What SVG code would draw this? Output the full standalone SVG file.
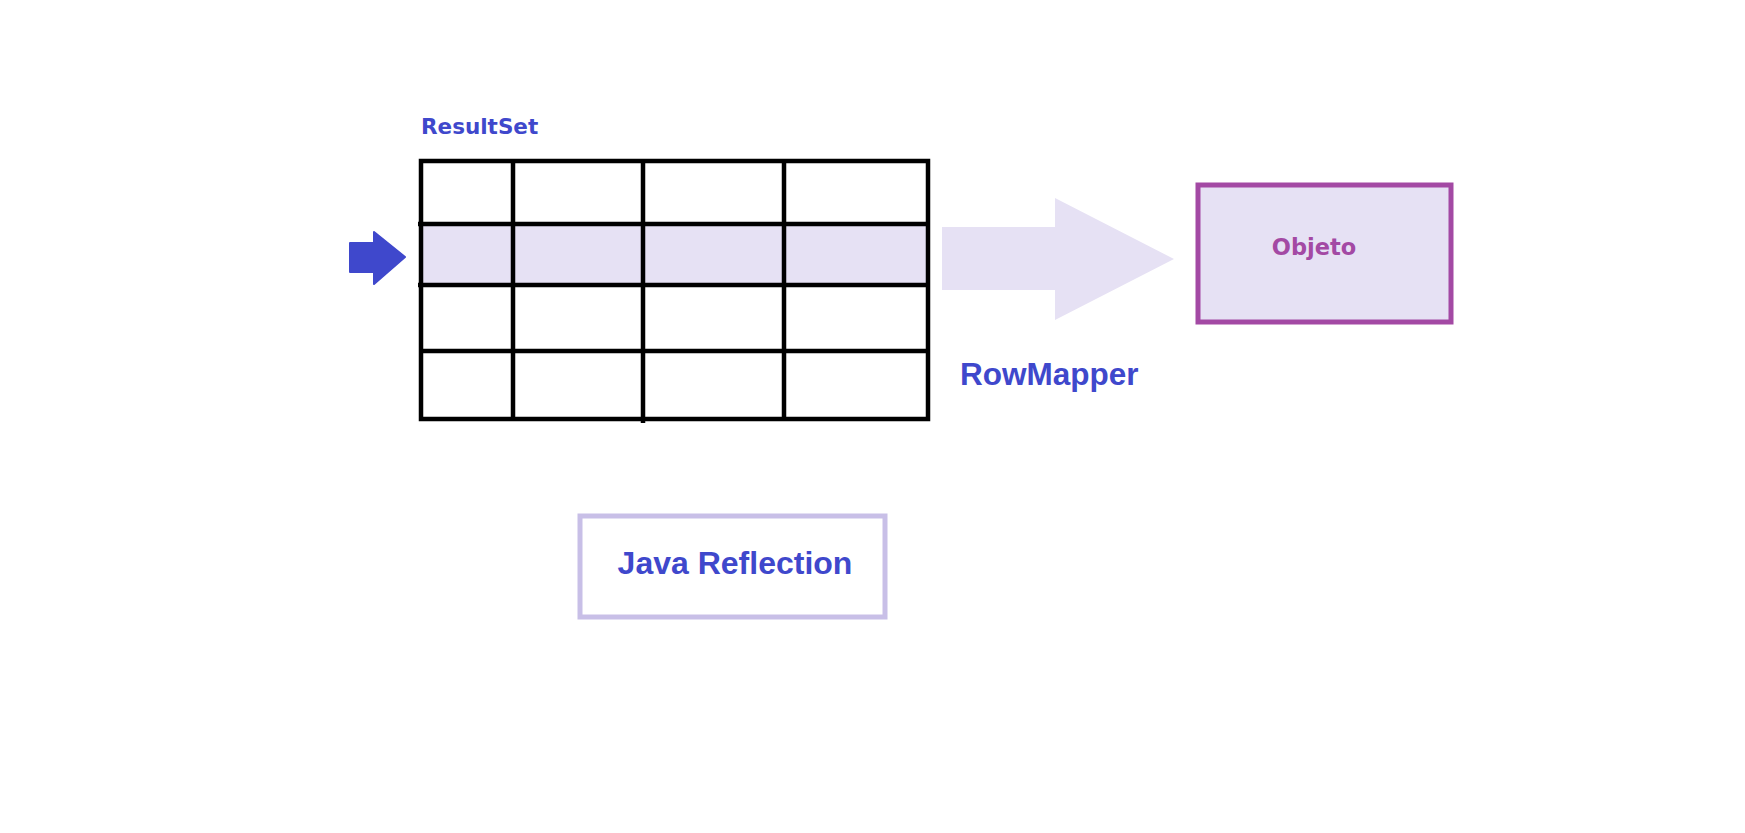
<svg xmlns="http://www.w3.org/2000/svg" width="1745" height="833" viewBox="0 0 1745 833">
<style>
.grid{stroke:#000;stroke-width:4.5;fill:none}
.blue{fill:#3f48cc;font-family:"Liberation Sans",Arial,sans-serif;font-weight:bold}
.mont{font-family:"DejaVu Sans","Liberation Sans",sans-serif;font-weight:bold}
.lav{fill:#e6e1f4}
</style>
<rect width="1745" height="833" fill="#fff"/>
<g id="resultset">
<text class="mont" x="421" y="134" font-size="21.5" fill="#3f48cc">ResultSet</text>
<rect class="lav" x="421" y="224" width="507" height="61"/>
<rect class="grid" x="421" y="161" width="507" height="258"/>
<line class="grid" x1="513" y1="161" x2="513" y2="419"/>
<line class="grid" x1="643" y1="161" x2="643" y2="423"/>
<line class="grid" x1="784" y1="161" x2="784" y2="419"/>
<line class="grid" x1="418" y1="224" x2="928" y2="224"/>
<line class="grid" x1="418" y1="285" x2="928" y2="285"/>
<line class="grid" x1="421" y1="351" x2="928" y2="351"/>
</g>
<g id="pointer">
<path d="M350,243 H374 V232 L405,257 L374,284 V272 H350 Z" fill="#3f48cc" stroke="#3f48cc" stroke-width="2" stroke-linejoin="round"/>
</g>
<g id="connectors">
<path class="lav" d="M942,227 H1055 V198 L1174,259 L1055,320 V290 H942 Z"/>
<text class="blue" x="960" y="385" font-size="31.5">RowMapper</text>
</g>
<g id="objeto">
<rect x="1198" y="185" width="253" height="137" fill="#e6e1f4" stroke="#a349a4" stroke-width="5"/>
<text class="mont" x="1314" y="255" font-size="22.5" fill="#a349a4" text-anchor="middle">Objeto</text>
</g>
<g id="reflection">
<rect x="580" y="516" width="305" height="101" fill="#fff" stroke="#c8bfe7" stroke-width="5"/>
<text class="blue" x="735" y="574" font-size="32" text-anchor="middle">Java Reflection</text>
</g>
</svg>
